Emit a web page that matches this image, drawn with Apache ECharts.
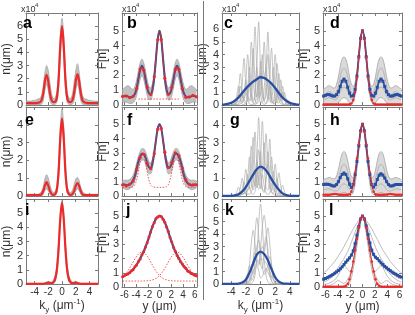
<!DOCTYPE html>
<html><head><meta charset="utf-8">
<script src="https://cdn.jsdelivr.net/npm/echarts@6/dist/echarts.min.js"></script>
<style>html,body{margin:0;padding:0;background:#fff}#c{width:415px;height:315px}</style>
</head><body><div id="c"></div>
<script>
// ---------- sample grids ----------
const KF = [-5.25,-5,-4.75,-4.5,-4.25,-4,-3.75,-3.5,-3.25,-3,-2.75,-2.5,-2.25,-2,-1.75,-1.5,-1.25,-1,-0.75,-0.5,-0.25,0,0.25,0.5,0.75,1,1.25,1.5,1.75,2,2.25,2.5,2.75,3,3.25,3.5,3.75,4,4.25,4.5,4.75,5,5.25];
const KT = [-4,-3.75,-3.5,-3.25,-3,-2.75,-2.5,-2.25,-2,-1.75,-1.5,-1.25,-1,-0.75,-0.5,-0.25,0,0.25,0.5,0.75,1,1.25,1.5,1.75,2,2.25,2.5,2.75,3,3.25,3.5,3.75,4];
const KC = [-5.25,-5,-4.5,-4,-3.5,-3,-2.5,-2,-1.5,-1,-0.5,0,0.5,1,1.5,2,2.5,3,3.5,4,4.5,5,5.25];
const YF = [-6.3,-6,-5.7,-5.4,-5.1,-4.8,-4.5,-4.2,-3.9,-3.6,-3.3,-3,-2.7,-2.4,-2.1,-1.8,-1.5,-1.2,-0.9,-0.6,-0.3,0,0.3,0.6,0.9,1.2,1.5,1.8,2.1,2.4,2.7,3,3.3,3.6,3.9,4.2,4.5,4.8,5.1,5.4,5.7,6,6.3];

// ---------- tick labels ----------
const K_TICKS = [-4,-2,0,2,4];
const F_TICKS = [-6,-4,-2,0,2,4,6];
const Y_TICKS_6 = [0,1,2,3,4,5,6];
const Y_TICKS_5 = [0,1,2,3,4,5];
const Y_TICKS_4 = [0,1,2,3,4];

// ---------- panel a ----------
const a_red = [0.15,0.15,0.15,0.15,0.15,0.15,0.15,0.17,0.2,0.35,0.85,1.8,2.3,1.8,0.85,0.35,0.22,0.25,0.55,1.9,4.5,6.0,4.5,1.9,0.55,0.25,0.22,0.35,0.85,1.8,2.35,1.8,0.85,0.35,0.2,0.17,0.15,0.15,0.15,0.15,0.15,0.15,0.15];
const a_up = [0.3,0.3,0.3,0.3,0.35,0.35,0.4,0.45,0.5,0.7,1.4,2.45,3.0,2.6,1.6,0.8,0.5,0.55,1.0,2.6,5.3,6.6,5.3,2.6,1.0,0.55,0.5,0.8,1.6,2.6,3.15,2.5,1.4,0.7,0.5,0.45,0.4,0.35,0.35,0.3,0.3,0.3,0.3];
const a_lo = [0,0,0,0,0,0,0,0,0,0.05,0.3,1.1,1.6,1.1,0.3,0.05,0.02,0.05,0.2,1.3,3.7,5.4,3.7,1.3,0.2,0.05,0.02,0.05,0.3,1.1,1.6,1.1,0.3,0.05,0,0,0,0,0,0,0,0,0];

// ---------- panel e ----------
const e_red = [0.05,0.05,0.05,0.05,0.05,0.05,0.05,0.05,0.06,0.09,0.27,0.58,0.78,0.58,0.27,0.1,0.06,0.1,0.35,1.35,3.25,4.35,3.25,1.35,0.35,0.1,0.06,0.1,0.26,0.56,0.72,0.56,0.26,0.09,0.06,0.05,0.05,0.05,0.05,0.05,0.05,0.05,0.05];
const e_up = [0.1,0.1,0.1,0.1,0.1,0.1,0.1,0.1,0.15,0.25,0.5,0.95,1.2,1.0,0.6,0.3,0.2,0.25,0.6,1.8,3.9,4.9,3.9,1.8,0.6,0.25,0.2,0.3,0.6,0.95,1.05,0.85,0.45,0.25,0.15,0.1,0.1,0.1,0.1,0.1,0.1,0.1,0.1];
const e_lo = [0,0,0,0,0,0,0,0,0,0,0.1,0.3,0.4,0.3,0.1,0,0,0.03,0.2,1.0,2.8,4.0,2.8,1.0,0.2,0.03,0,0,0.1,0.3,0.4,0.3,0.1,0,0,0,0,0,0,0,0,0,0];

// ---------- panel i ----------
const i_red = [0.02,0.02,0.02,0.02,0.02,0.02,0.02,0.02,0.02,0.02,0.02,0.04,0.08,0.1,0.07,0.06,0.12,0.35,1.0,2.5,4.6,5.75,4.6,2.5,1.0,0.35,0.12,0.06,0.07,0.1,0.08,0.04,0.02,0.02,0.02,0.02,0.02,0.02,0.02,0.02,0.02,0.02,0.02];
const i_up = [0.05,0.05,0.05,0.05,0.05,0.05,0.05,0.05,0.05,0.05,0.05,0.08,0.15,0.2,0.15,0.15,0.3,0.6,1.4,3.0,4.9,5.9,4.9,3.0,1.4,0.6,0.3,0.15,0.15,0.2,0.15,0.08,0.05,0.05,0.05,0.05,0.05,0.05,0.05,0.05,0.05,0.05,0.05];
const i_lo = [0,0,0,0,0,0,0,0,0,0,0,0,0,0,0,0,0.05,0.2,0.7,2.1,4.3,5.6,4.3,2.1,0.7,0.2,0.05,0,0,0,0,0,0,0,0,0,0,0,0,0,0,0,0];

// ---------- panel b ----------
const b_blue = [0.56,0.6,0.62,0.58,0.52,0.52,0.58,0.75,1.15,1.76,2.38,2.65,2.38,1.76,1.16,0.79,0.74,1.05,1.85,3.14,4.44,5.0,4.44,3.14,1.85,1.05,0.74,0.79,1.16,1.76,2.38,2.65,2.38,1.76,1.15,0.75,0.58,0.52,0.52,0.58,0.62,0.6,0.56];
const b_red = [0.58,0.62,0.6,0.55,0.5,0.48,0.6,0.78,1.1,1.8,2.42,2.6,2.35,1.7,1.2,0.82,0.7,1.0,1.9,3.2,4.4,5.0,4.42,3.18,1.8,1.0,0.72,0.82,1.2,1.72,2.4,2.62,2.4,1.8,1.1,0.7,0.52,0.5,0.55,0.6,0.65,0.6,0.55];
const b_up = [1.05,1.15,1.25,1.3,1.25,1.1,1.05,1.25,1.7,2.3,2.85,3.1,2.85,2.3,1.7,1.25,1.15,1.45,2.2,3.4,4.6,5.05,4.6,3.4,2.2,1.45,1.15,1.25,1.7,2.3,2.85,3.1,2.85,2.3,1.7,1.25,1.05,1.1,1.25,1.3,1.25,1.15,1.05];
const b_lo = [0.2,0.2,0.2,0.15,0.1,0.1,0.15,0.3,0.65,1.2,1.75,2.0,1.75,1.2,0.65,0.35,0.35,0.7,1.5,2.9,4.25,4.9,4.25,2.9,1.5,0.7,0.35,0.35,0.65,1.2,1.75,2.0,1.75,1.2,0.65,0.3,0.15,0.1,0.1,0.15,0.2,0.2,0.2];
const b_baseX = [-3.6,3.6];
const b_baseY = [0.4,0.4];

// ---------- panel d ----------
const d_red = [0.03,0.03,0.03,0.03,0.03,0.03,0.03,0.03,0.03,0.03,0.03,0.03,0.03,0.03,0.04,0.1,0.33,0.87,1.85,3.2,4.48,5.0,4.48,3.2,1.85,0.87,0.33,0.1,0.04,0.03,0.03,0.03,0.03,0.03,0.03,0.03,0.03,0.03,0.03,0.03,0.03,0.03,0.03];
const d_blue = [0.6,0.65,0.7,0.7,0.65,0.6,0.6,0.7,0.9,1.25,1.6,1.75,1.6,1.2,0.8,0.6,0.65,1.05,1.95,3.25,4.5,5.0,4.5,3.25,1.95,1.05,0.65,0.6,0.8,1.2,1.6,1.75,1.6,1.25,0.9,0.7,0.6,0.6,0.65,0.7,0.7,0.65,0.6];
const d_up = [1.1,1.15,1.25,1.3,1.25,1.15,1.15,1.4,1.9,2.6,3.1,3.25,3.1,2.6,1.9,1.4,1.25,1.5,2.3,3.5,4.6,5.05,4.6,3.5,2.3,1.5,1.25,1.4,1.9,2.6,3.1,3.25,3.1,2.6,1.9,1.4,1.15,1.15,1.25,1.3,1.25,1.15,1.1];
const d_m1 = [0.7,0.75,0.85,0.9,0.85,0.75,0.7,0.9,1.3,1.9,2.35,2.5,2.35,1.9,1.3,0.85,0.8,1.1,2.0,3.3,4.5,5.0,4.5,3.3,2.0,1.1,0.8,0.85,1.3,1.9,2.35,2.5,2.35,1.9,1.3,0.9,0.7,0.75,0.85,0.9,0.85,0.75,0.7];
const d_m2 = [0.35,0.4,0.45,0.5,0.45,0.4,0.35,0.4,0.6,0.9,1.15,1.2,1.15,0.9,0.6,0.4,0.45,0.85,1.8,3.15,4.45,5.0,4.45,3.15,1.8,0.85,0.45,0.4,0.6,0.9,1.15,1.2,1.15,0.9,0.6,0.4,0.35,0.4,0.45,0.5,0.45,0.4,0.35];
const d_lo = [0.1,0.1,0.1,0.1,0.1,0.1,0.1,0.1,0.15,0.3,0.45,0.5,0.45,0.3,0.15,0.1,0.2,0.6,1.6,3.0,4.4,4.95,4.4,3.0,1.6,0.6,0.2,0.1,0.15,0.3,0.45,0.5,0.45,0.3,0.15,0.1,0.1,0.1,0.1,0.1,0.1,0.1,0.1];

// ---------- panel f ----------
const f_blue = [0.8,0.8,0.75,0.75,0.8,0.9,1.1,1.4,1.9,2.4,2.75,2.95,2.95,2.7,2.3,2.0,1.95,2.3,3.0,3.9,4.7,5.0,4.7,3.9,3.0,2.3,1.95,2.0,2.3,2.7,2.95,2.95,2.75,2.4,1.9,1.4,1.1,0.9,0.8,0.75,0.75,0.8,0.8];
const f_red = [0.78,0.82,0.72,0.78,0.82,0.92,1.05,1.45,1.85,2.45,2.7,3.0,2.9,2.72,2.25,2.05,1.9,2.35,2.95,3.95,4.65,5.0,4.72,3.85,3.05,2.25,2.0,1.95,2.35,2.65,3.0,2.9,2.8,2.35,1.95,1.35,1.12,0.88,0.82,0.72,0.78,0.82,0.78];
const f_comp = [0.6,0.6,0.6,0.6,0.6,0.61,0.65,0.79,1.11,1.68,2.37,2.88,2.88,2.37,1.68,1.11,0.79,0.65,0.61,0.6,0.6,0.6,0.6,0.6,0.61,0.65,0.79,1.11,1.68,2.37,2.88,2.88,2.37,1.68,1.11,0.79,0.65,0.61,0.6,0.6,0.6,0.6,0.6];
const f_up = [1.05,1.1,1.1,1.1,1.15,1.25,1.45,1.8,2.3,2.75,3.1,3.3,3.3,3.1,2.75,2.4,2.3,2.6,3.2,4.0,4.75,5.05,4.75,4.0,3.2,2.6,2.3,2.4,2.75,3.1,3.3,3.3,3.1,2.75,2.3,1.8,1.45,1.25,1.15,1.1,1.1,1.1,1.05];
const f_lo = [0.55,0.5,0.45,0.45,0.5,0.6,0.75,1.05,1.5,2.0,2.35,2.5,2.5,2.25,1.85,1.55,1.55,1.95,2.75,3.75,4.6,4.95,4.6,3.75,2.75,1.95,1.55,1.55,1.85,2.25,2.5,2.5,2.35,2.0,1.5,1.05,0.75,0.6,0.5,0.45,0.45,0.5,0.55];

// ---------- panel h ----------
const h_blue = [0.8,0.82,0.82,0.8,0.75,0.7,0.7,0.8,1.0,1.28,1.5,1.6,1.5,1.2,0.82,0.6,0.8,1.5,2.4,3.5,4.55,5.0,4.55,3.5,2.4,1.5,0.8,0.62,0.8,1.15,1.45,1.55,1.45,1.25,1.0,0.8,0.7,0.7,0.75,0.8,0.8,0.8,0.8];
const h_red = [0.08,0.08,0.08,0.08,0.1,0.12,0.14,0.12,0.1,0.08,0.08,0.08,0.08,0.08,0.12,0.3,0.8,1.6,2.6,3.6,4.5,5.0,4.5,3.6,2.6,1.6,0.8,0.3,0.12,0.08,0.08,0.08,0.08,0.08,0.1,0.12,0.14,0.12,0.1,0.08,0.08,0.08,0.08];
const h_up = [1.15,1.2,1.25,1.3,1.25,1.2,1.2,1.4,1.85,2.45,2.95,3.1,2.95,2.45,1.8,1.35,1.3,1.7,2.5,3.6,4.6,5.05,4.6,3.6,2.5,1.7,1.3,1.35,1.8,2.45,2.95,3.1,2.95,2.45,1.85,1.4,1.2,1.2,1.25,1.3,1.25,1.2,1.15];
const h_m1 = [0.8,0.8,0.85,0.85,0.8,0.75,0.75,0.9,1.2,1.7,2.1,2.2,2.1,1.7,1.2,0.85,0.9,1.4,2.3,3.5,4.55,5.0,4.55,3.5,2.3,1.4,0.9,0.85,1.2,1.7,2.1,2.2,2.1,1.7,1.2,0.9,0.75,0.75,0.8,0.85,0.85,0.8,0.8];
const h_m2 = [0.45,0.45,0.5,0.5,0.45,0.4,0.35,0.35,0.45,0.65,0.8,0.85,0.8,0.65,0.45,0.35,0.5,1.1,2.1,3.4,4.5,5.0,4.5,3.4,2.1,1.1,0.5,0.35,0.45,0.65,0.8,0.85,0.8,0.65,0.45,0.35,0.35,0.4,0.45,0.5,0.5,0.45,0.45];
const h_lo = [0.1,0.1,0.1,0.1,0.1,0.1,0.1,0.1,0.1,0.15,0.2,0.25,0.2,0.15,0.1,0.1,0.25,0.8,1.9,3.2,4.4,4.95,4.4,3.2,1.9,0.8,0.25,0.1,0.1,0.15,0.2,0.25,0.2,0.15,0.1,0.1,0.1,0.1,0.1,0.1,0.1,0.1,0.1];

// ---------- panel j ----------
const j_blue = [0.75,0.8,0.86,0.93,1.02,1.12,1.25,1.4,1.58,1.78,2.0,2.25,2.5,2.8,3.15,3.5,3.9,4.25,4.55,4.8,4.95,5.0,4.95,4.8,4.55,4.25,3.9,3.5,3.15,2.8,2.5,2.25,2.0,1.8,1.6,1.45,1.3,1.15,1.05,0.97,0.9,0.85,0.8];
const j_red = [0.72,0.8,0.88,0.92,1.0,1.15,1.22,1.42,1.55,1.8,1.98,2.28,2.48,2.82,3.12,3.52,3.88,4.27,4.53,4.82,4.93,5.0,4.96,4.78,4.57,4.22,3.92,3.48,3.17,2.78,2.52,2.22,2.02,1.78,1.62,1.43,1.32,1.13,1.07,0.95,0.92,0.83,0.8];
const j_compL = [0.69,0.81,0.95,1.12,1.32,1.54,1.76,1.98,2.17,2.32,2.42,2.45,2.42,2.32,2.17,1.98,1.76,1.54,1.32,1.12,0.95,0.81,0.69,0.61,0.54,0.5,0.47,0.45,0.44,0.43,0.43,0.42,0.42,0.42,0.42,0.42,0.42,0.42,0.42,0.42,0.42,0.42,0.42];
const j_compR = [0.42,0.42,0.42,0.42,0.42,0.42,0.42,0.42,0.42,0.42,0.42,0.42,0.43,0.43,0.44,0.45,0.47,0.5,0.54,0.61,0.69,0.81,0.95,1.12,1.32,1.54,1.76,1.98,2.17,2.32,2.42,2.45,2.42,2.32,2.17,1.98,1.76,1.54,1.32,1.12,0.95,0.81,0.69];

// ---------- panel l ----------
const l_blue = [0.55,0.6,0.66,0.73,0.8,0.88,0.97,1.06,1.16,1.28,1.42,1.58,1.75,1.9,2.05,2.25,2.55,3.05,3.65,4.25,4.8,5.0,4.8,4.3,3.7,3.1,2.6,2.3,2.1,2.0,1.85,1.7,1.58,1.45,1.35,1.25,1.15,1.05,0.97,0.9,0.82,0.75,0.7];
const l_red = [0.02,0.02,0.02,0.02,0.02,0.02,0.02,0.02,0.02,0.02,0.02,0.03,0.08,0.22,0.55,1.1,1.8,2.6,3.4,4.2,4.8,5.0,4.8,4.2,3.4,2.6,1.8,1.1,0.55,0.22,0.08,0.03,0.02,0.02,0.02,0.02,0.02,0.02,0.02,0.02,0.02,0.02,0.02];
const l_g1 = [1.0,1.1,1.2,1.35,1.5,1.65,1.8,2.0,2.2,2.4,2.6,2.85,3.1,3.35,3.6,3.85,4.1,4.3,4.5,4.7,4.9,5.05,4.9,4.7,4.5,4.3,4.1,3.85,3.6,3.35,3.1,2.85,2.6,2.4,2.2,2.0,1.8,1.65,1.5,1.35,1.2,1.1,1.0];
const l_g2 = [0.55,0.6,0.65,0.75,0.85,0.95,1.1,1.25,1.4,1.6,1.8,2.0,2.25,2.5,2.8,3.15,3.5,3.85,4.2,4.5,4.8,5.0,4.8,4.5,4.2,3.85,3.5,3.15,2.8,2.5,2.25,2.0,1.8,1.6,1.4,1.25,1.1,0.95,0.85,0.75,0.65,0.6,0.55];
const l_g3 = [0.2,0.2,0.23,0.27,0.32,0.4,0.5,0.65,0.85,1.1,1.4,1.65,1.85,1.95,2.0,2.15,2.4,2.8,3.4,4.1,4.7,5.0,4.7,4.1,3.4,2.8,2.4,2.15,2.0,1.95,1.85,1.65,1.4,1.1,0.85,0.65,0.5,0.4,0.32,0.27,0.23,0.2,0.2];
const l_g4 = [0.35,0.4,0.45,0.55,0.65,0.75,0.9,1.05,1.2,1.35,1.45,1.5,1.4,1.25,1.1,1.2,1.6,2.3,3.1,3.9,4.6,5.0,4.6,3.9,3.1,2.3,1.6,1.2,1.1,1.25,1.4,1.5,1.45,1.35,1.2,1.05,0.9,0.75,0.65,0.55,0.45,0.4,0.35];
const l_g5 = [0,0,0,0,0,0,0,0,0,0,0,0,0,0.05,0.25,0.65,1.25,2.0,2.9,3.8,4.6,5.0,4.6,3.8,2.9,2.0,1.25,0.65,0.25,0.05,0,0,0,0,0,0,0,0,0,0,0,0,0];
const l_g6 = [0.05,0.05,0.08,0.1,0.15,0.2,0.3,0.4,0.45,0.4,0.3,0.25,0.35,0.55,0.8,1.2,1.75,2.4,3.2,4.0,4.65,5.0,4.65,4.0,3.2,2.4,1.75,1.2,0.8,0.55,0.35,0.25,0.3,0.4,0.45,0.4,0.3,0.2,0.15,0.1,0.08,0.05,0.05];

// ---------- panel c (single shots on KT, mean on KC) ----------
const c_blue = [0.02,0.03,0.08,0.17,0.35,0.6,0.95,1.3,1.6,1.85,2.05,2.2,2.15,1.95,1.7,1.35,0.95,0.6,0.35,0.17,0.08,0.03,0.02];
const c_t1 = [0,0,0,0.05,0.1,0.4,0.8,0.4,0.3,1.35,3.0,1.4,0.4,0.6,3.0,6.6,3.0,0.55,0.45,1.8,4.0,1.8,0.35,0.2,0.45,1.0,0.45,0.1,0.05,0,0,0,0];
const c_t2 = [0,0,0,0.02,0.05,0.1,0.2,0.9,2.0,0.9,0.3,0.5,2.8,6.2,2.8,0.6,0.8,2.25,5.0,2.25,0.5,0.5,1.35,3.0,1.35,0.25,0.15,0.45,1.0,0.45,0.08,0,0];
const c_t3 = [0,0,0.06,0.36,0.8,0.36,0.06,0.05,0.1,0.4,2.25,5.0,2.25,0.4,0.1,0.35,1.8,4.0,2.3,2.9,5.8,2.6,0.46,0.1,0.2,1.1,2.5,1.1,0.2,0.05,0,0,0];
const c_t4 = [0,0.05,0.27,0.6,0.27,0.3,1.65,3.7,1.65,0.65,0.4,2.0,4.5,2.0,0.65,1.6,3.5,1.6,0.3,0.1,0.36,2.0,4.5,2.0,0.36,0.16,0.9,2.0,0.9,0.4,0.5,0.22,0.04];
const c_t5 = [0,0,0.02,0.12,0.68,1.5,0.68,0.45,1.8,4.0,1.8,0.32,0.24,1.35,3.0,1.35,0.24,0.24,1.35,3.0,1.35,0.24,0.32,1.8,4.0,1.8,0.45,0.68,1.5,0.68,0.12,0.02,0];
const c_t6 = [0,0.03,0.1,0.2,1.1,2.5,1.1,0.2,0.16,0.9,2.0,0.9,0.16,0.05,0.2,1.1,2.5,1.1,0.35,0.8,1.8,0.8,0.15,0.26,1.5,3.3,1.5,0.35,0.45,1.0,0.45,0.08,0];
const c_t7 = [0.02,0.02,0.12,0.68,1.5,0.68,0.2,0.45,1.0,0.45,0.08,0.05,0.05,0.16,0.9,2.0,0.9,0.16,0.05,0.12,0.68,1.5,0.68,0.12,0.1,0.54,1.2,0.54,0.1,0.05,0.18,0.4,0.18];

// ---------- panel g ----------
const g_blue = [0,0,0,0.01,0.03,0.1,0.25,0.5,0.85,1.2,1.5,1.65,1.55,1.3,0.95,0.62,0.35,0.15,0.05,0.01,0,0,0];
const g_t1 = [0,0,0,0,0.02,0.05,0.1,0.15,0.2,0.4,1.3,2.8,1.3,0.55,2.0,4.4,2.0,0.4,0.3,1.15,2.5,1.15,0.25,0.1,0.05,0.03,0,0,0,0,0,0,0];
const g_t2 = [0,0,0,0.02,0.05,0.12,0.2,0.7,1.5,0.7,0.4,0.5,1.6,3.6,1.65,0.6,1.9,4.2,1.9,0.45,0.35,1.0,2.2,1.0,0.2,0.08,0.04,0,0,0,0,0,0];
const g_t3 = [0,0,0.02,0.05,0.1,0.45,1.0,0.45,0.1,0.3,0.5,1.5,3.3,1.5,0.45,1.15,2.5,1.4,1.8,3.5,1.6,0.4,0.3,0.8,1.8,0.8,0.15,0.05,0.02,0,0,0,0];
const g_t4 = [0,0,0.05,0.22,0.5,0.22,0.1,0.15,0.25,1.0,2.2,1.0,0.35,0.9,2.0,0.9,0.4,1.35,3.0,1.6,1.6,3.2,1.45,0.35,0.2,0.6,1.3,0.6,0.1,0.03,0,0,0];
const g_t5 = [0,0,0,0.02,0.05,0.1,0.36,0.8,0.36,0.1,0.12,0.2,0.68,1.5,0.7,0.4,0.55,1.2,0.55,0.15,0.1,0.15,0.63,1.4,0.63,0.15,0.1,0.27,0.6,0.27,0.05,0,0];
const g_t6 = [0,0,0,0,0.02,0.05,0.1,0.15,0.55,1.2,0.55,0.15,0.1,0.25,1.2,2.6,1.2,0.3,0.2,0.8,1.8,0.8,0.2,0.15,0.45,1.0,0.45,0.08,0.02,0,0,0,0];

// ---------- panel k ----------
const k_blue = [0.02,0.02,0.02,0.02,0.02,0.04,0.12,0.35,0.9,1.65,2.35,2.6,2.4,1.9,1.2,0.55,0.2,0.06,0.03,0.02,0.02,0.02,0.02];
const k_t1 = [0,0,0,0,0,0,0,0,0,0,0.02,0.06,0.2,0.7,2.0,4.8,6.4,4.8,2.0,0.7,0.2,0.06,0.02,0,0,0,0,0,0,0,0,0,0];
const k_t2 = [0,0,0,0,0,0,0,0,0,0.02,0.08,0.4,1.5,3.9,5.3,3.9,1.6,1.2,2.8,3.8,2.8,1.1,0.3,0.06,0,0,0,0,0,0,0,0,0];
const k_t3 = [0,0,0,0,0,0,0,0,0.02,0.3,1.5,3.3,4.3,3.2,1.6,1.5,2.4,3.0,2.6,3.4,4.5,3.3,1.5,0.4,0.06,0,0,0,0,0,0,0,0];
const k_t4 = [0,0,0,0,0,0,0,0,0,0.05,0.3,1.0,2.0,2.5,2.0,1.6,2.8,4.6,5.5,4.3,2.2,0.8,0.2,0.04,0,0,0,0,0,0,0,0,0];
const k_t5 = [0,0,0,0,0,0,0,0.02,0.2,0.8,1.5,1.0,0.8,1.8,3.0,3.5,2.8,1.5,0.8,0.9,1.6,2.2,1.6,0.6,0.1,0,0,0,0,0,0,0,0];
const k_t6 = [0,0,0,0,0,0,0,0,0.05,0.15,0.35,0.65,1.0,1.4,1.7,1.9,2.0,2.0,1.9,1.7,1.4,1.0,0.65,0.35,0.15,0.05,0,0,0,0,0,0,0];
const k_t7 = [0,0,0,0,0,0,0.02,0.15,0.5,0.8,0.55,0.3,0.5,1.1,1.5,1.1,0.5,0.6,1.0,1.3,1.0,0.6,0.55,0.7,0.45,0.15,0.02,0,0,0,0,0,0];

// ---------- styling / layout ----------
const RED = '#ec2a2a', BLUE = '#2b4fa0', GRAY = '#ababab', BAND = '#c0c0c0', AX = '#7a7a7a', TX = '#333';
const FONT = 'Liberation Sans, Arial, sans-serif';
const colLeft = [21, 122, 222, 323], colW = [77, 75, 77, 79];
const rowTop = [13, 107, 199], rowH = [92, 89, 88];
const nameGapY = [7, 11, 9, 8];
const panels = [
  {L:'a', r:0, c:0, ymax:7,   yt:Y_TICKS_6, lx:2},
  {L:'b', r:0, c:1, ymax:6.2, yt:Y_TICKS_5, lx:5},
  {L:'c', r:0, c:2, ymax:7.3, yt:Y_TICKS_6, lx:2},
  {L:'d', r:0, c:3, ymax:6.2, yt:Y_TICKS_5, lx:7},
  {L:'e', r:1, c:0, ymax:5,   yt:Y_TICKS_4, lx:4},
  {L:'f', r:1, c:1, ymax:6.2, yt:Y_TICKS_5, lx:5},
  {L:'g', r:1, c:2, ymax:5,   yt:Y_TICKS_4, lx:8},
  {L:'h', r:1, c:3, ymax:6.2, yt:Y_TICKS_5, lx:7},
  {L:'i', r:2, c:0, ymax:6,   yt:Y_TICKS_5, lx:4},
  {L:'j', r:2, c:1, ymax:6.2, yt:Y_TICKS_5, lx:4},
  {L:'k', r:2, c:2, ymax:6.8, yt:Y_TICKS_6, lx:3},
  {L:'l', r:2, c:3, ymax:6.2, yt:Y_TICKS_5, lx:6}
];

function pts(xs, ys){ return xs.map((x,i)=>[x, ys[i]]); }
function ln(g, xs, ys, color, width, extra){
  return Object.assign({type:'line', xAxisIndex:g, yAxisIndex:g, data:pts(xs, ys),
    symbol:'none', showSymbol:false, smooth:0.35, silent:true, animation:false,
    lineStyle:{color:color, width:width}}, extra || {});
}
// filled envelope drawn through the axes' coordinate system
function band(g, xs, lo, up, fill){
  return [
    {type:'custom', xAxisIndex:g, yAxisIndex:g, data:[[xs[0], lo[0]]], silent:true, clip:true, z:1, animation:false,
     renderItem:function(params, api){
       const P = [];
       for (let i = 0; i < xs.length; i++) P.push(api.coord([xs[i], up[i]]));
       for (let i = xs.length - 1; i >= 0; i--) P.push(api.coord([xs[i], lo[i]]));
       return {type:'polygon', shape:{points:P}, style:{fill:fill || BAND, stroke:null}};
     }},
    ln(g, xs, lo, '#9a9a9a', 0.7, {z:2}),
    ln(g, xs, up, '#9a9a9a', 0.7, {z:2})
  ];
}
function dots(g, xs, ys, color, shape, size, lw, every){
  return ln(g, xs, ys, color, lw, {showSymbol:true, symbol:shape,
    symbolSize:(v,p)=> (p.dataIndex % every === 0 ? size : 0),
    itemStyle:{color:color}, z:4});
}
function dotted(g, xs, ys){
  return ln(g, xs, ys, RED, 0.8, {lineStyle:{color:RED, width:0.8, type:[1.5,1.5]}, z:3});
}

const series = [];
// a
series.push(...band(0, KF, a_lo, a_up), ln(0, KF, a_red, RED, 2.2, {z:4}));
// b
series.push(...band(1, YF, b_lo, b_up), dotted(1, b_baseX, b_baseY), ln(1, YF, b_blue, BLUE, 2, {z:3}), dots(1, YF, b_red, RED, 'circle', 3.2, 0.8, 2));
// c
[c_t1,c_t2,c_t3,c_t4,c_t5,c_t6,c_t7].forEach(t=>series.push(ln(2, KT, t, GRAY, 0.7)));
series.push(ln(2, KC, c_blue, BLUE, 2.3, {z:4}));
// d
series.push(...band(3, YF, d_lo, d_up, '#dadada'), ln(3, YF, d_m1, GRAY, 0.8), ln(3, YF, d_m2, GRAY, 0.8));
series.push(dots(3, YF, d_blue, BLUE, 'rect', 3, 1.8, 1), dots(3, YF, d_red, RED, 'circle', 2.6, 1, 1));
// e
series.push(...band(4, KF, e_lo, e_up), ln(4, KF, e_red, RED, 2.2, {z:4}));
// f
series.push(...band(5, YF, f_lo, f_up), dotted(5, YF, f_comp), ln(5, YF, f_blue, BLUE, 2, {z:3}), dots(5, YF, f_red, RED, 'circle', 3.2, 0.8, 2));
// g
[g_t1,g_t2,g_t3,g_t4,g_t5,g_t6].forEach(t=>series.push(ln(6, KT, t, GRAY, 0.7)));
series.push(ln(6, KC, g_blue, BLUE, 2.3, {z:4}));
// h
series.push(...band(7, YF, h_lo, h_up, '#dadada'), ln(7, YF, h_m1, GRAY, 0.8), ln(7, YF, h_m2, GRAY, 0.8));
series.push(dots(7, YF, h_blue, BLUE, 'rect', 3, 1.8, 1), dots(7, YF, h_red, RED, 'circle', 2.6, 1, 1));
// i
series.push(...band(8, KF, i_lo, i_up), ln(8, KF, i_red, RED, 2.2, {z:4}));
// j
series.push(dotted(9, YF, j_compL), dotted(9, YF, j_compR), ln(9, YF, j_blue, BLUE, 2.2, {z:3}), dots(9, YF, j_red, RED, 'circle', 3, 0.8, 1));
// k
[k_t1,k_t2,k_t3,k_t4,k_t5,k_t6,k_t7].forEach(t=>series.push(ln(10, KT, t, GRAY, 0.7)));
series.push(ln(10, KC, k_blue, BLUE, 2.3, {z:4}));
// l
[l_g1,l_g2,l_g3,l_g4,l_g5,l_g6].forEach(t=>series.push(ln(11, YF, t, GRAY, 0.8)));
series.push(dots(11, YF, l_blue, BLUE, 'rect', 3, 1.8, 1), dots(11, YF, l_red, RED, 'circle', 2.6, 1, 1));

const grids = [], xB = [], xT = [], yL = [], yR = [], graphics = [];
const K_NAME = '{a|k}{b|y}{a| (μm}{c|-1}{a|)}';
const Y_NAME = '{a|y (μm)}';
const nameRich = {a:{fontSize:12, lineHeight:16, color:TX, fontFamily:FONT},
                  b:{fontSize:8, lineHeight:8, verticalAlign:'bottom', color:TX, fontFamily:FONT},
                  c:{fontSize:8, lineHeight:8, verticalAlign:'top', color:TX, fontFamily:FONT}};
panels.forEach((p, g)=>{
  const left = colLeft[p.c], top = rowTop[p.r], w = colW[p.c], h = rowH[p.r];
  grids.push({left:left, top:top, width:w, height:h, show:false});
  const isK = (p.c === 0 || p.c === 2);
  const xr = isK ? [-5.25, 5.25] : [-6.4, 6.4];
  const xt = isK ? K_TICKS : F_TICKS;
  const bottom = p.r === 2;
  const tick = (vals)=>({show:true, inside:true, length:3, customValues:vals, lineStyle:{color:AX, width:1}});
  const line = {show:true, onZero:false, lineStyle:{color:AX, width:1}};
  xB.push({gridIndex:g, type:'value', min:xr[0], max:xr[1], position:'bottom', axisLine:line, axisTick:tick(xt),
    axisLabel:{show:bottom, customValues:xt, margin:3, fontSize:10, color:TX, fontFamily:FONT},
    splitLine:{show:false}, name: bottom ? (isK ? K_NAME : Y_NAME) : '', nameLocation:'middle', nameGap:11,
    nameTextStyle:{rich:nameRich}});
  xT.push({gridIndex:g, type:'value', min:xr[0], max:xr[1], position:'top', axisLine:line, axisTick:tick(xt),
    axisLabel:{show:false}, splitLine:{show:false}});
  yL.push({gridIndex:g, type:'value', min:0, max:p.ymax, position:'left', axisLine:line, axisTick:tick(p.yt),
    axisLabel:{customValues:p.yt, margin:3, fontSize:11, color:TX, fontFamily:FONT}, splitLine:{show:false},
    name: isK ? 'n(μm)' : 'F[n]', nameLocation:'middle', nameRotate:90, nameGap:nameGapY[p.c],
    nameTextStyle:{fontSize:12, color:TX, fontFamily:FONT}});
  yR.push({gridIndex:g, type:'value', min:0, max:p.ymax, position:'right', axisLine:line, axisTick:tick(p.yt),
    axisLabel:{show:false}, splitLine:{show:false}});
  graphics.push({type:'text', left:left + p.lx, top:[16,113,203][p.r], z:10,
    style:{text:p.L, font:'bold 16px ' + FONT, fill:'#000'}});
  if (p.r === 0) {
    graphics.push({type:'text', left:left, top:5, z:10, style:{text:'x10', font:'9px ' + FONT, fill:TX}});
    graphics.push({type:'text', left:left + 14, top:2, z:10, style:{text:'4', font:'6px ' + FONT, fill:TX}});
  }
});
graphics.push({type:'line', shape:{x1:203.5, y1:1, x2:203.5, y2:300}, style:{stroke:'#777', lineWidth:1}, z:10});

const chart = echarts.init(document.getElementById('c'), null, {renderer:'canvas', width:415, height:315});
chart.setOption({
  animation:false,
  textStyle:{fontFamily:FONT},
  grid:grids,
  xAxis:xB.concat(xT).map((a,i)=>Object.assign(a, {gridIndex: i % 12})),
  yAxis:yL.concat(yR).map((a,i)=>Object.assign(a, {gridIndex: i % 12})),
  series:series,
  graphic:graphics
});
</script>
</body></html>
